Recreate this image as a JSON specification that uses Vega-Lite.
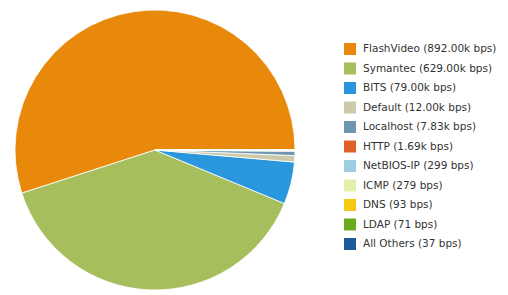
{
  "$schema": "https://vega.github.io/schema/vega-lite/v6.json",
  "width": 310,
  "height": 300,
  "padding": {"left": 0, "top": 0, "right": 198, "bottom": 0},
  "autosize": "none",
  "background": "white",
  "view": {"stroke": null},
  "data": {"values": [
    {"idx": 1, "name": "FlashVideo (892.00k bps)", "bps": 892000},
    {"idx": 2, "name": "Symantec (629.00k bps)", "bps": 629000},
    {"idx": 3, "name": "BITS (79.00k bps)", "bps": 79000},
    {"idx": 4, "name": "Default (12.00k bps)", "bps": 12000},
    {"idx": 5, "name": "Localhost (7.83k bps)", "bps": 7830},
    {"idx": 6, "name": "HTTP (1.69k bps)", "bps": 1690},
    {"idx": 7, "name": "NetBIOS-IP (299 bps)", "bps": 299},
    {"idx": 8, "name": "ICMP (279 bps)", "bps": 279},
    {"idx": 9, "name": "DNS (93 bps)", "bps": 93},
    {"idx": 10, "name": "LDAP (71 bps)", "bps": 71},
    {"idx": 11, "name": "All Others (37 bps)", "bps": 37}
  ]},
  "mark": {"type": "arc", "radius": 140, "stroke": "white", "strokeWidth": 0.8},
  "encoding": {
    "theta": {"field": "bps", "type": "quantitative", "stack": true, "scale": {"range": [1.5708, -4.7124]}},
    "order": {"field": "idx", "type": "quantitative"},
    "color": {
      "field": "name", "type": "nominal",
      "scale": {
        "domain": ["FlashVideo (892.00k bps)", "Symantec (629.00k bps)", "BITS (79.00k bps)", "Default (12.00k bps)", "Localhost (7.83k bps)", "HTTP (1.69k bps)", "NetBIOS-IP (299 bps)", "ICMP (279 bps)", "DNS (93 bps)", "LDAP (71 bps)", "All Others (37 bps)"],
        "range": ["#E8890C", "#A6BF5C", "#2A96DC", "#CCCAA8", "#6E96B0", "#E0602A", "#9DCDE0", "#E2F0A8", "#F5C814", "#6AAA1E", "#1E5A9C"]
      },
      "legend": {
        "title": null,
        "orient": "none",
        "legendX": 344,
        "legendY": 43,
        "symbolType": "square",
        "symbolSize": 144,
        "symbolStrokeWidth": 0,
        "labelFont": "DejaVu Sans",
        "labelFontSize": 10.5,
        "labelColor": "#333333",
        "rowPadding": 7.5,
        "labelOffset": 7,
        "labelLimit": 200
      }
    }
  }
}
